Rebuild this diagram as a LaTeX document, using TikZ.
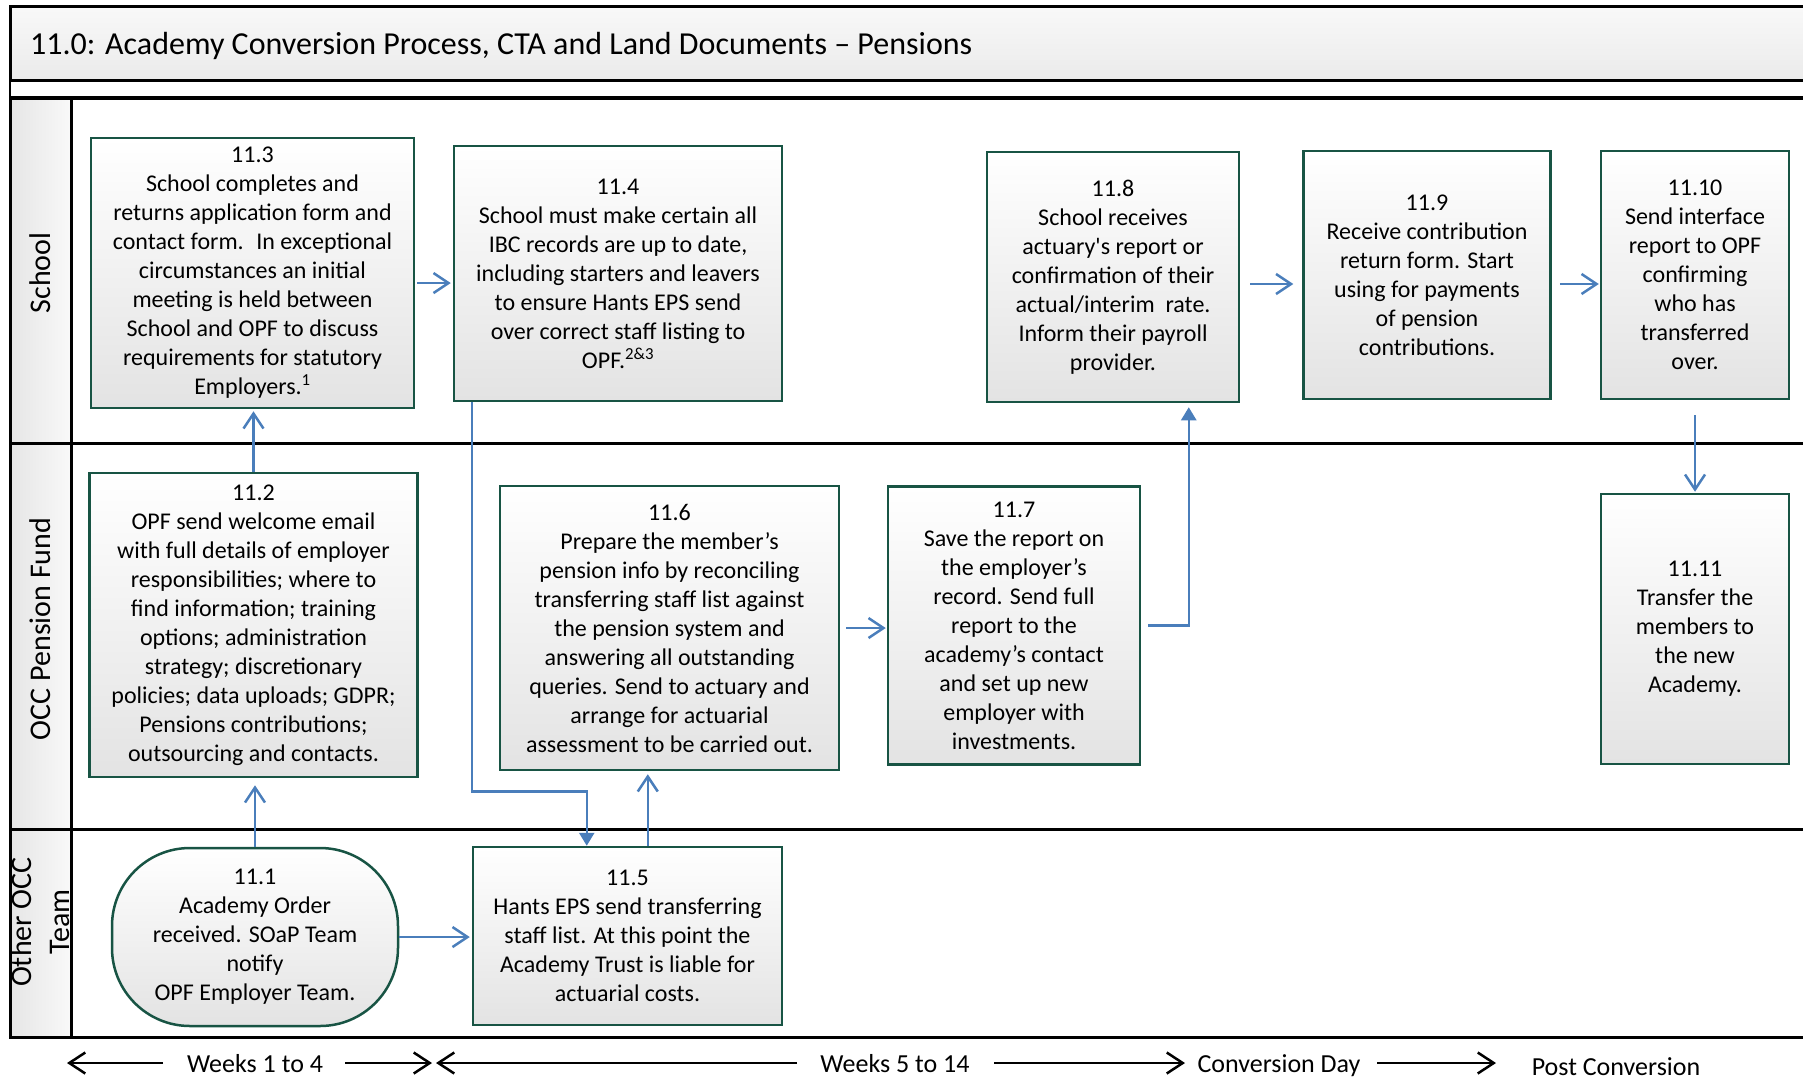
\documentclass[tikz,border=0pt]{standalone}
\usepackage{fontspec}
\setmainfont{Carlito}
\usetikzlibrary{arrows.meta,calc}
\definecolor{boxgreen}{RGB}{24,84,68}
\definecolor{flowblue}{RGB}{74,126,187}
\newcommand\boxfont{\fontsize{24pt}{29pt}\selectfont}
\newcommand\lanefont{\fontsize{30pt}{38pt}\selectfont}
\newcommand\headfont{\fontsize{32pt}{38pt}\selectfont}
\newcommand\timefont{\fontsize{26pt}{30pt}\selectfont}
\begin{document}
\begin{tikzpicture}[x=1pt,y=-1pt,
  stepbox/.style={draw=boxgreen,line width=2.5pt,top color=white,bottom color=gray!22,
    align=center,inner sep=0pt,font=\boxfont},
  flow/.style={draw=flowblue,line width=2.5pt,-{Straight Barb[length=15pt,width=20pt]}},
  flowtri/.style={draw=flowblue,line width=2.5pt,-{Triangle[length=13pt,width=15pt]}},
  lanelabel/.style={rotate=90,align=center,font=\lanefont,inner sep=0pt},
  timelabel/.style={font=\timefont,inner sep=0pt,anchor=base},
  timearrow/.style={draw=black,line width=2.5pt,-{Straight Barb[length=16pt,width=21pt]}},
  laneline/.style={draw=black,line width=3pt}]

\useasboundingbox (0,0) rectangle (1803,1079);
\clip (0,0) rectangle (1803,1079);

% heading bar
\path[top color=gray!5,bottom color=gray!16,draw=black,line width=3pt]
  (10,6) rectangle (1820,80);
\node[font=\headfont,anchor=west,inner sep=0pt] (title) at (30,46)
  {11.0: Academy Conversion Process, CTA and Land Documents -- Pensions};
\draw[fill=white,line width=1.5pt] (10,81) rectangle (1820,97);

% swimlanes
\path[left color=gray!20,right color=gray!5] (10,98) rectangle (71,1038);
\draw[laneline] (10,98) -- (1820,98);
\draw[laneline] (10,443) -- (1820,443);
\draw[laneline] (10,829) -- (1820,829);
\draw[laneline] (10,1037) -- (1820,1037);
\draw[laneline] (10,98) -- (10,1039);
\draw[laneline] (71,98) -- (71,1039);

\node[lanelabel] (lschool) at (40,273) {School};
\node[lanelabel] (lfund) at (40,629) {OCC Pension Fund};
\node[lanelabel] (lother) at (40,922) {Other OCC\\Team};

% process steps
\node[stepbox,minimum width=323pt,minimum height=270pt] (b113) at (252.5,273)
  {11.3\\School completes and\\returns application form and\\contact form.~ In exceptional\\circumstances an initial\\meeting is held between\\School and OPF to discuss\\requirements for statutory\\Employers.\textsuperscript{1}};
\node[stepbox,minimum width=328pt,minimum height=255pt] (b114) at (618,273.5)
  {11.4\\School must make certain all\\IBC records are up to date,\\including starters and leavers\\to ensure Hants EPS send\\over correct staff listing to\\OPF.\textsuperscript{2\&3}};
\node[stepbox,minimum width=252pt,minimum height=250pt] (b118) at (1113,277)
  {11.8\\School receives\\actuary\textquotesingle s report or\\confirmation of their\\actual/interim~ rate.\\Inform their payroll\\provider.};
\node[stepbox,minimum width=247pt,minimum height=248pt] (b119) at (1427,275)
  {11.9\\Receive contribution\\return form. Start\\using for payments\\of pension\\contributions.};
\node[stepbox,minimum width=188pt,minimum height=248pt] (b1110) at (1695,275)
  {11.10\\Send interface\\report to OPF\\confirming\\who has\\transferred\\over.};
\node[stepbox,minimum width=328pt,minimum height=304pt] (b112) at (253.5,625)
  {11.2\\OPF send welcome email\\with full details of employer\\responsibilities; where to\\find information; training\\options; administration\\strategy; discretionary\\policies; data uploads; GDPR;\\Pensions contributions;\\outsourcing and contacts.};
\node[stepbox,minimum width=339pt,minimum height=284pt] (b116) at (669.5,628)
  {11.6\\Prepare the member’s\\pension info by reconciling\\transferring staff list against\\the pension system and\\answering all outstanding\\queries. Send to actuary and\\arrange for actuarial\\assessment to be carried out.};
\node[stepbox,minimum width=252pt,minimum height=278pt] (b117) at (1014,625.5)
  {11.7\\Save the report on\\the employer’s\\record. Send full\\report to the\\academy’s contact\\and set up new\\employer with\\investments.};
\node[stepbox,minimum width=188pt,minimum height=270pt] (b1111) at (1695,629)
  {11.11\\Transfer the\\members to\\the new\\Academy.};
\node[stepbox,rounded corners=78pt,minimum width=286pt,minimum height=178pt] (b111) at (255,937)
  {11.1\\Academy Order\\received. SOaP Team\\notify\\OPF Employer Team.};
\node[stepbox,minimum width=309pt,minimum height=178pt] (b115) at (627.5,936)
  {11.5\\Hants EPS send transferring\\staff list. At this point the\\Academy Trust is liable for\\actuarial costs.};

% connectors
\draw[flow,shorten >=7pt] (b111.north) -- (b111.north |- b112.south);
\draw[flow,shorten >=2pt] (b112.north) -- (b112.north |- b113.south);
\draw[flow,shorten <=2pt,shorten >=2pt] ([yshift=-10pt]b113.east) -- ([yshift=-10pt]b113.east -| b114.west);
\draw[flow,shorten >=2pt] (b111.east) -- (b111.east -| b115.west);
\draw[flowtri] ([xshift=19pt]b114.south west) -- ++(0,389) -| ([xshift=115pt]b115.north west);
\draw[flow,shorten >=3pt] ([xshift=176pt]b115.north west) -- ([xshift=176pt]b115.north west |- b116.south);
\draw[flow,shorten <=6pt,shorten >=1pt] (b116.east) -- (b116.east -| b117.west);
\draw[flowtri,shorten <=7pt,shorten >=4pt] (b117.east) -| ([xshift=203pt]b118.south west);
\draw[flow,shorten <=10pt,shorten >=9pt] ([yshift=-7pt]b118.east) -- ([yshift=-7pt]b118.east -| b119.west);
\draw[flow,shorten <=8pt,shorten >=1pt] ([yshift=-9pt]b119.east) -- ([yshift=-9pt]b119.east -| b1110.west);
\draw[flow,shorten <=15pt,shorten >=1pt] (b1110.south) -- (b1111.north);

% time scale
\node[timelabel] (wa) at (255,1072) {Weeks 1 to 4};
\node[timelabel] (wb) at (895,1072) {Weeks 5 to 14};
\node[timelabel] (cday) at (1279,1072) {Conversion Day};
\node[timelabel] (post) at (1616,1075) {Post Conversion};
\coordinate (t0) at (67,1063);
\coordinate (t1) at (432,1063);
\coordinate (t2) at (436,1063);
\coordinate (t3) at (1185,1063);
\coordinate (t4) at (1496,1063);
\draw[timearrow] ([xshift=-92pt]wa.base |- t0) -- (t0);
\draw[timearrow] ([xshift=90pt]wa.base |- t1) -- (t1);
\draw[timearrow] ([xshift=-98pt]wb.base |- t2) -- (t2);
\draw[timearrow] ([xshift=99pt]wb.base |- t3) -- (t3);
\draw[timearrow] ([xshift=98pt]cday.base |- t4) -- (t4);
\end{tikzpicture}
\end{document}
